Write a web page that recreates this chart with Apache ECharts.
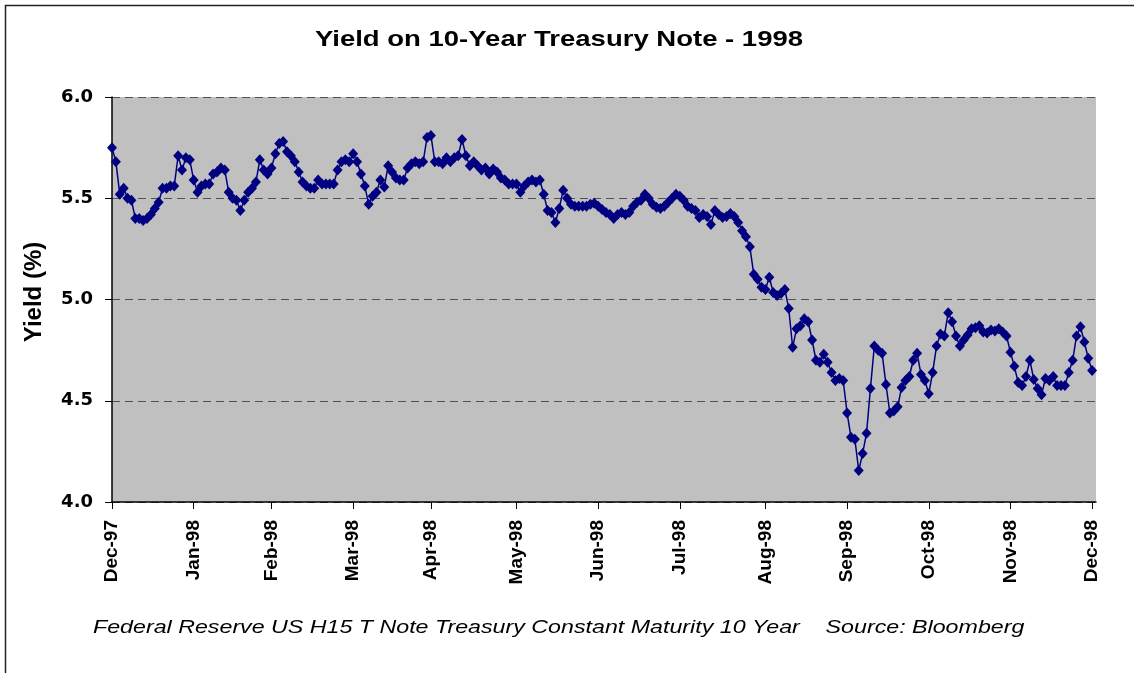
<!DOCTYPE html>
<html>
<head>
<meta charset="utf-8">
<title>Yield on 10-Year Treasury Note - 1998</title>
<script src="https://cdn.jsdelivr.net/npm/echarts@6/dist/echarts.min.js"></script>
<style>
  html, body { margin: 0; padding: 0; background: #fff; }
  #chart { width: 1134px; height: 673px; }
</style>
</head>
<body>
<div id="chart"></div>
<script>
// daily 10-year yields, one array per month (business days)
const dec97 = [5.75, 5.68, 5.52, 5.55, 5.50, 5.49, 5.40, 5.40, 5.39, 5.40, 5.42, 5.45, 5.48, 5.55, 5.55, 5.56, 5.56, 5.71, 5.64, 5.70, 5.69];
const jan98 = [5.59, 5.53, 5.56, 5.57, 5.57, 5.62, 5.63, 5.65, 5.64, 5.53, 5.50, 5.49, 5.44, 5.49, 5.53, 5.55, 5.58, 5.69, 5.64, 5.62];
const feb98 = [5.65, 5.72, 5.77, 5.78, 5.73, 5.71, 5.68, 5.63, 5.58, 5.56, 5.55, 5.55, 5.59, 5.57, 5.57, 5.57, 5.57, 5.64, 5.68, 5.69, 5.68];
const mar98 = [5.72, 5.68, 5.62, 5.56, 5.47, 5.51, 5.53, 5.59, 5.555, 5.66, 5.63, 5.60, 5.59, 5.59, 5.65, 5.67, 5.68, 5.67, 5.68, 5.80];
const apr98 = [5.81, 5.68, 5.68, 5.67, 5.70, 5.68, 5.70, 5.71, 5.79, 5.71, 5.66, 5.68, 5.66, 5.64, 5.65, 5.62, 5.645, 5.63, 5.60, 5.59, 5.57, 5.57];
const may98 = [5.57, 5.53, 5.56, 5.58, 5.59, 5.58, 5.59, 5.52, 5.44, 5.43, 5.38, 5.45, 5.54, 5.50, 5.47, 5.46, 5.46, 5.46, 5.46, 5.47, 5.475];
const jun98 = [5.46, 5.445, 5.43, 5.42, 5.40, 5.42, 5.43, 5.42, 5.43, 5.46, 5.48, 5.49, 5.52, 5.50, 5.47, 5.455, 5.45, 5.46, 5.48, 5.50, 5.52];
const jul98 = [5.51, 5.49, 5.46, 5.45, 5.44, 5.405, 5.42, 5.41, 5.37, 5.44, 5.42, 5.405, 5.41, 5.425, 5.41, 5.38, 5.34, 5.31, 5.26, 5.125, 5.10, 5.06];
const aug98 = [5.05, 5.11, 5.035, 5.02, 5.03, 5.05, 4.955, 4.764, 4.855, 4.87, 4.905, 4.89, 4.80, 4.70, 4.69, 4.73, 4.69, 4.64, 4.60, 4.61, 4.60];
const sep98 = [4.44, 4.32, 4.31, 4.155, 4.24, 4.34, 4.56, 4.77, 4.75, 4.735, 4.58, 4.44, 4.45, 4.47, 4.565, 4.60, 4.62, 4.70, 4.735, 4.63, 4.60];
const oct98 = [4.535, 4.64, 4.77, 4.83, 4.82, 4.935, 4.89, 4.82, 4.77, 4.80, 4.825, 4.855, 4.86, 4.87, 4.84, 4.835, 4.85, 4.845, 4.855, 4.84, 4.82];
const nov98 = [4.74, 4.67, 4.59, 4.575, 4.62, 4.70, 4.605, 4.56, 4.53, 4.61, 4.60, 4.62, 4.575, 4.575, 4.575, 4.64, 4.70, 4.82, 4.865, 4.79, 4.71];
const dec98 = [4.65];

const monthLabels = ["Dec-97", "Jan-98", "Feb-98", "Mar-98", "Apr-98", "May-98", "Jun-98",
  "Jul-98", "Aug-98", "Sep-98", "Oct-98", "Nov-98", "Dec-98"];
const yTicks = [4.0, 4.5, 5.0, 5.5, 6.0];

const months = [dec97, jan98, feb98, mar98, apr98, may98, jun98, jul98, aug98, sep98, oct98, nov98, dec98];

// flatten the months, remember where each one starts
let yields = [];
let categories = [];
const monthStarts = [];
months.forEach((m, k) => {
  monthStarts.push(yields.length);
  m.forEach((v, j) => {
    yields.push(v);
    categories.push(j === 0 ? monthLabels[k] : "");
  });
});
// one empty slot so the plot runs a bit past the last tick, like the original
categories.push("");

const isMonthStart = (idx) => monthStarts.indexOf(idx) !== -1;

const myChart = echarts.init(document.getElementById("chart"));

const option = {
  animation: false,
  backgroundColor: "#fff",
  grid: {
    left: 112,
    top: 97,
    width: 984,
    height: 405,
    show: true,
    backgroundColor: "#c0c0c0",
    borderWidth: 0,
  },
  xAxis: {
    type: "category",
    data: categories,
    boundaryGap: false,
    axisLine: { lineStyle: { color: "#000", width: 1.5 } },
    axisTick: {
      show: true,
      length: 7,
      interval: (idx) => isMonthStart(idx),
      lineStyle: { color: "#000", width: 1 },
    },
    axisLabel: {
      interval: (idx) => isMonthStart(idx),
      rotate: 90,
      margin: 18,
      fontFamily: "Liberation Sans",
      fontSize: 19,
      fontWeight: "bold",
      color: "#000",
    },
    splitLine: { show: false },
  },
  yAxis: {
    type: "value",
    min: yTicks[0],
    max: yTicks[yTicks.length - 1],
    interval: 0.5,
    axisLine: { show: true, lineStyle: { color: "#000", width: 1.5 } },
    axisTick: { show: true, length: 7, lineStyle: { color: "#000" } },
    axisLabel: {
      margin: 19,
      fontFamily: "DejaVu Sans",
      fontSize: 18,
      fontWeight: "bold",
      color: "#000",
      formatter: (v) => v.toFixed(1),
    },
    splitLine: {
      show: true,
      lineStyle: { color: "#505050", type: [8, 5], width: 1 },
    },
  },
  graphic: [
    {
      type: "rect",
      left: 3,
      top: 3,
      shape: { width: 1200, height: 800 },
      style: { fill: "none", stroke: "#222", lineWidth: 1.5 },
      silent: true,
    },
    {
      // title, stretched sideways like the original export
      type: "text",
      x: 559,
      y: 40,
      scaleX: 1.25,
      style: {
        text: "Yield on 10-Year Treasury Note - 1998",
        fontFamily: "Liberation Sans",
        fontSize: 22,
        fontWeight: "bold",
        fill: "#000",
        align: "center",
        verticalAlign: "middle",
      },
    },
    {
      type: "text",
      x: 34,
      y: 292,
      rotation: Math.PI / 2,
      style: {
        text: "Yield (%)",
        fontFamily: "Liberation Sans",
        fontSize: 24,
        fontWeight: "bold",
        fill: "#000",
        align: "center",
        verticalAlign: "middle",
      },
    },
    {
      type: "text",
      x: 93,
      y: 628,
      scaleX: 1.29,
      style: {
        text: "Federal Reserve US H15 T Note Treasury Constant Maturity 10 Year    Source: Bloomberg",
        fontFamily: "Liberation Sans",
        fontSize: 18,
        fontStyle: "italic",
        fill: "#000",
        align: "left",
        verticalAlign: "middle",
      },
    },
  ],
  series: [
    {
      type: "line",
      data: yields,
      showAllSymbol: true,
      symbol: "diamond",
      symbolSize: [10, 11],
      lineStyle: { color: "#000080", width: 1.5 },
      itemStyle: { color: "#000080" },
    },
  ],
};

myChart.setOption(option);
</script>
</body>
</html>
